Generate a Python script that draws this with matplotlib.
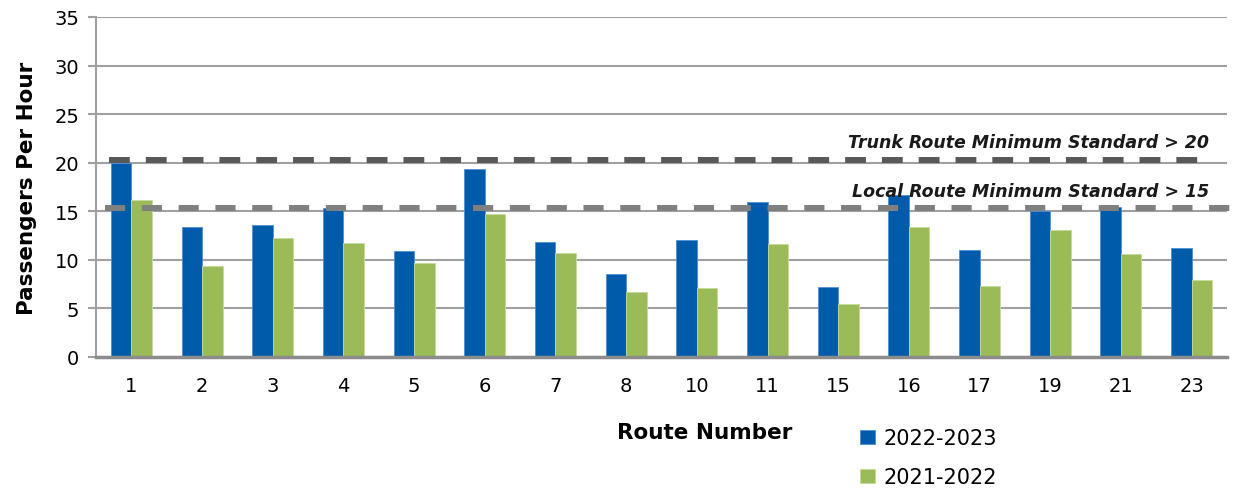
import matplotlib.pyplot as plt
import numpy as np

plt.rcParams['lines.scale_dashes'] = False

routes = ['1', '2', '3', '4', '5', '6', '7', '8', '10', '11', '15', '16', '17', '19', '21', '23']
pph_2223 = [20.0, 13.4, 13.6, 15.3, 10.9, 19.4, 11.8, 8.5, 12.0, 16.0, 7.2, 16.7, 11.0, 15.0, 15.4, 11.2]
pph_2122 = [16.2, 9.4, 12.3, 11.7, 9.7, 14.7, 10.7, 6.7, 7.1, 11.6, 5.5, 13.4, 7.3, 13.1, 10.6, 7.9]
trunk_std = 20.3
local_std = 15.3

blue = '#005BAA'
green = '#9BBB59'

fig = plt.figure(figsize=(12.41, 4.89), dpi=100)
ax = fig.add_axes([0.0774, 0.2679, 0.9113, 0.6953])

x = np.arange(len(routes))
w = 0.29
ax.bar(x - w / 2, pph_2223, width=w, color=blue, edgecolor='#4F8FD0', linewidth=0.6, zorder=2, label='2022-2023')
ax.bar(x + w / 2, pph_2122, width=w, color=green, edgecolor='#C6DA9E', linewidth=0.6, zorder=2, label='2021-2022')

# minimum standard lines
ax.plot([-0.32, 15.29], [trunk_std, trunk_std], color='#595959', lw=4.3,
        dashes=(15, 11.5), solid_capstyle='butt', dash_capstyle='butt', zorder=3, clip_on=False)
ax.plot([-0.37, 15.68], [local_std, local_std], color='#808080', lw=4.3,
        dashes=(14.5, 12), solid_capstyle='butt', dash_capstyle='butt', zorder=3, clip_on=False)

ax.text(15.25, 21.2, 'Trunk Route Minimum Standard > 20', ha='right', va='bottom',
        fontsize=12.5, fontweight='bold', fontstyle='italic', family='DejaVu Sans', color='#1a1a1a')
ax.text(15.25, 16.2, 'Local Route Minimum Standard > 15', ha='right', va='bottom',
        fontsize=12.5, fontweight='bold', fontstyle='italic', family='DejaVu Sans', color='#1a1a1a')

ax.set_xlim(-0.5, 15.5)
ax.set_ylim(0, 35)
ax.set_yticks(range(0, 36, 5))
ax.set_xticks(x)
ax.set_xticklabels(routes)
ax.yaxis.grid(True, color='#A0A0A0', lw=1.5, zorder=0)
ax.set_axisbelow(True)
for s in ['top', 'right']:
    ax.spines[s].set_visible(False)
ax.spines['left'].set_color('#A0A0A0')
ax.spines['left'].set_linewidth(1.5)
ax.spines['bottom'].set_color('#8C8C8C')
ax.spines['bottom'].set_linewidth(2.5)
ax.tick_params(axis='y', length=6, width=1.5, color='#A0A0A0', labelsize=14, pad=6)
ax.tick_params(axis='x', length=0, labelsize=14, pad=14)

fig.text(0.022, 0.615, 'Passengers Per Hour', rotation=90, ha='center', va='center',
         fontsize=15.5, fontweight='bold', family='DejaVu Sans')
fig.text(0.568, 0.115, 'Route Number', ha='center', va='center',
         fontsize=15.5, fontweight='bold', family='DejaVu Sans')

fig.legend(loc='upper left', bbox_to_anchor=(0.693, 0.122), frameon=False, fontsize=15,
           handlelength=0.7, handleheight=0.7, handletextpad=0.45, labelspacing=0.9,
           borderaxespad=0, borderpad=0)

fig.savefig('out.png', dpi=100)
